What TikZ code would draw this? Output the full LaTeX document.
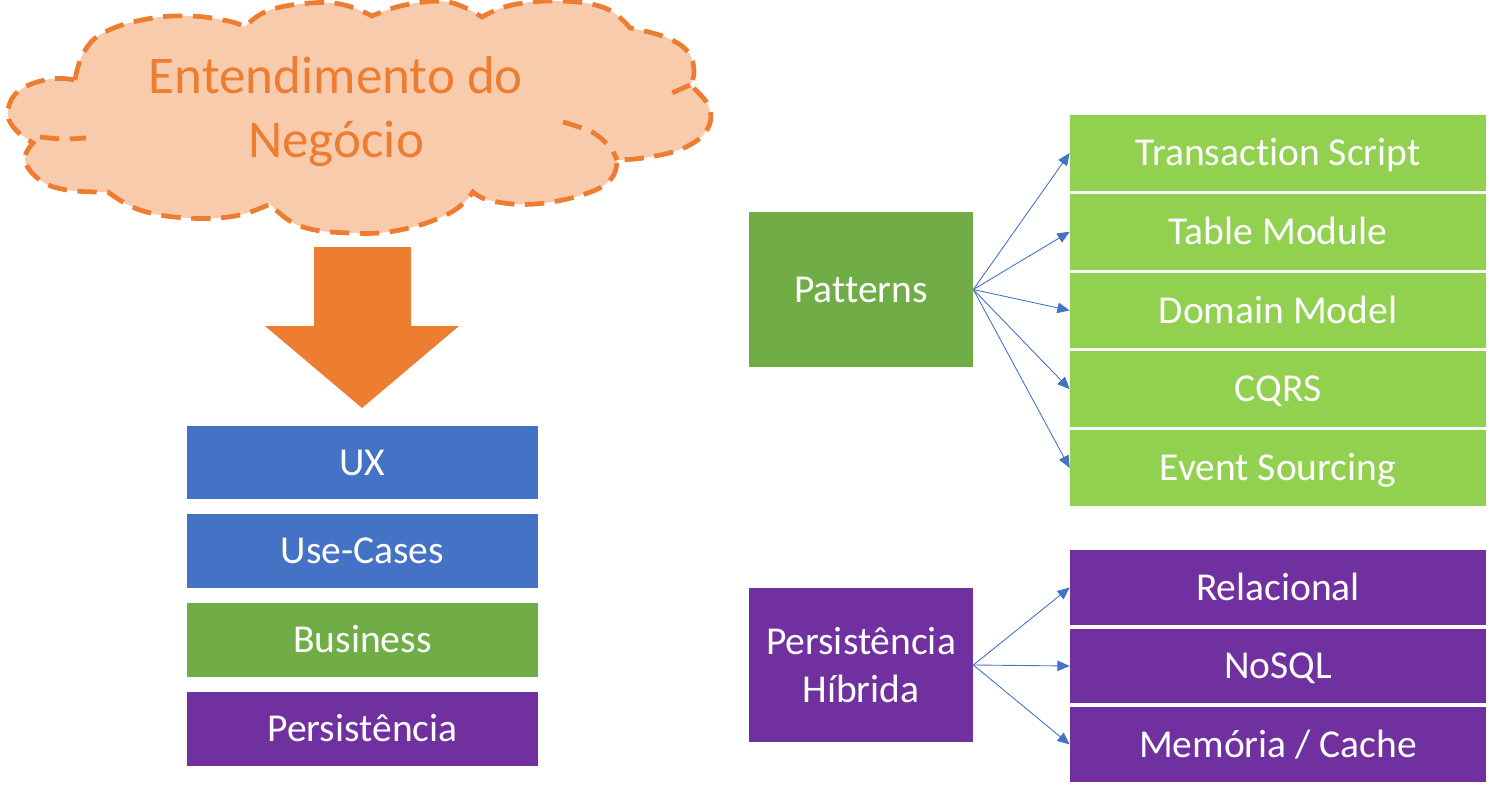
\documentclass[tikz,border=0pt]{standalone}
\usepackage{fontspec}
\setmainfont{Carlito}[Ligatures=CommonOff]
\usetikzlibrary{arrows.meta}
\definecolor{uxblue}{HTML}{4472C4}
\definecolor{bizgreen}{HTML}{70AD47}
\definecolor{patgreen}{HTML}{92D050}
\definecolor{dbpurple}{HTML}{7030A0}
\definecolor{bizorange}{HTML}{ED7D31}
\definecolor{cloudfill}{HTML}{F8CBAD}
\begin{document}
\begin{tikzpicture}[x=0.02cm,y=-0.02cm,
     every node/.style = {inner sep=0pt, text=white,
       font=\fontsize{22.5}{27.8}\selectfont},
     layer/.style = {minimum width=7.02cm, minimum height=1.48cm,
       text height=14.5pt, text depth=0pt},
     hub/.style = {minimum width=4.48cm, minimum height=3.1cm, align=center},
     item/.style = {minimum width=8.32cm, minimum height=1.52cm,
       text height=14.5pt, text depth=0pt},
     cloudline/.style = {draw=bizorange, line width=2.7pt,
       dash pattern=on 11pt off 6pt},
     link/.style = {uxblue, line width=0.5pt,
       -{Triangle[width=6pt,length=7pt]}}]
   \useasboundingbox (0,0) rectangle (1492,791);
   % cloud, puff by puff
   \path[cloudline, fill=cloudfill, smooth, tension=0.7]
     plot coordinates {(75,80) (84,52) (105,32) (147,19) (190,16) (228,21) (245,27)}
     -- plot coordinates {(245,27) (265,12) (300,4) (340,4) (372,16)}
     -- plot coordinates {(372,16) (405,5) (448,2) (482,17)}
     -- plot coordinates {(482,17) (512,5) (560,1) (605,8) (630,28)}
     -- plot coordinates {(630,28) (665,37) (688,52) (694,72) (690,85)}
     -- plot coordinates {(690,85) (708,105) (708,128) (686,147) (650,157) (617,160)}
     -- plot coordinates {(617,160) (611,179) (585,194) (535,204) (492,201) (473,192)}
     -- plot coordinates {(473,192) (450,213) (400,230) (350,233) (300,226) (270,204)}
     -- plot coordinates {(270,204) (235,216) (187,218) (140,210) (108,192)}
     -- plot coordinates {(108,192) (67,190) (40,180) (25,160) (33,143)}
     -- plot coordinates {(33,143) (14,128) (8,110) (20,90) (50,79) (75,80)}
     -- cycle;
   \draw[cloudline, smooth] plot coordinates {(40,137) (62,139) (86,138)};
   \draw[cloudline, smooth] plot coordinates {(563,122) (592,132) (610,147) (617,160)};
   \draw[cloudline] (690,85) -- (672,93);
   \node[text=bizorange, align=center,
     font=\fontsize{30.2}{36.3}\selectfont] (idea) at (336,112)
     {Entendimento do\\Negócio};
   % big arrow
   \fill[bizorange] (314,247) -- (411,247) -- (411,326) -- (459,326)
     -- (362,408) -- (265,326) -- (314,326) -- cycle;
   % layers
   \node[layer, fill=uxblue] (ux) at (362.5,462.5) {UX};
   \node[layer, fill=uxblue] (uc) at (362.5,551) {Use-Cases};
   \node[layer, fill=bizgreen] (biz) at (362.5,640) {Business};
   \node[layer, fill=dbpurple] (per) at (362.5,729) {Persistência};
   % patterns
   \node[hub, fill=bizgreen] (pat) at (861,289.5) {Patterns};
   \node[item, fill=patgreen] (ts) at (1278,153) {Transaction Script};
   \node[item, fill=patgreen] (tm) at (1278,231.75) {Table Module};
   \node[item, fill=patgreen] (dm) at (1278,310.5) {Domain Model};
   \node[item, fill=patgreen] (cq) at (1278,389.25) {CQRS};
   \node[item, fill=patgreen] (es) at (1278,468) {Event Sourcing};
   \foreach \t in {ts,tm,dm,cq,es}
     \draw[link] (pat.east) -- (\t.west);
   % persistence
   \node[hub, fill=dbpurple] (ph) at (861,665) {Persistência\\Híbrida};
   \node[item, fill=dbpurple, minimum height=1.5cm] (rel) at (1278,587.5) {Relacional};
   \node[item, fill=dbpurple, minimum height=1.5cm] (nos) at (1278,666) {NoSQL};
   \node[item, fill=dbpurple, minimum height=1.5cm] (mem) at (1278,744.5) {Memória / Cache};
   \foreach \t in {rel,nos,mem}
     \draw[link] (ph.east) -- (\t.west);
 \end{tikzpicture}
\end{document}
